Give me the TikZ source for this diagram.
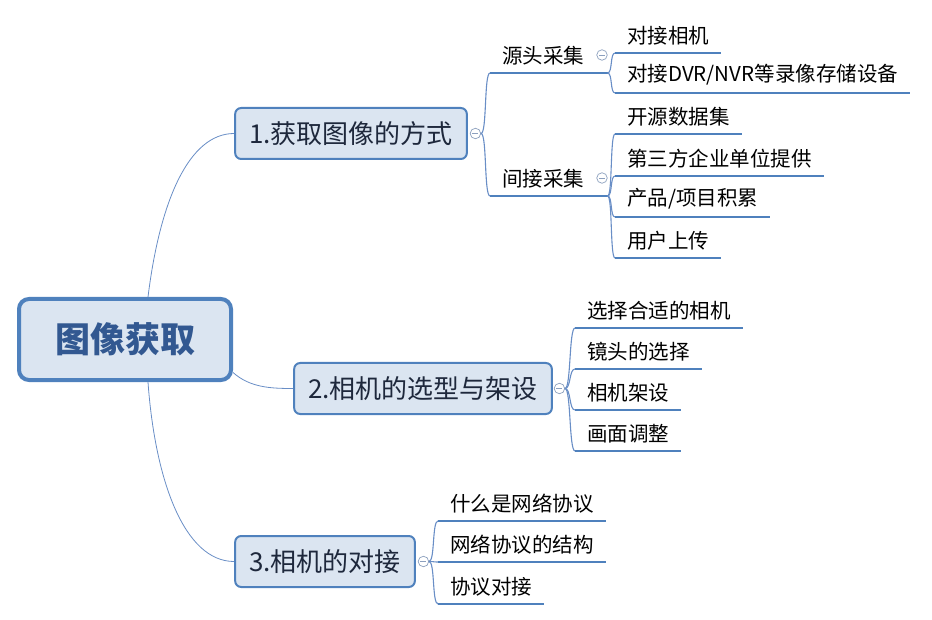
\documentclass[tikz,border=0pt]{standalone}
\usepackage{fontspec}
\setmainfont{Noto Sans CJK SC}
\usetikzlibrary{positioning}

\definecolor{xmblue}{RGB}{79,129,189}
\definecolor{boxfill}{RGB}{219,229,241}
\definecolor{roottext}{RGB}{50,88,145}
\definecolor{maintext}{RGB}{30,40,60}
\definecolor{linkblue}{RGB}{105,142,198}
\definecolor{foldgray}{RGB}{140,160,190}

\tikzset{
  root/.style={draw=xmblue, line width=4pt, fill=boxfill, rounded corners=10pt, minimum width=212pt, minimum height=81pt, font=\fontsize{35}{40}\selectfont\bfseries, text=roottext},
  main/.style={draw=xmblue, line width=2pt, fill=boxfill, rounded corners=6pt, minimum height=51pt, inner xsep=14pt, font=\fontsize{26}{30}\selectfont, text=maintext},
  sub/.style={anchor=south west, inner xsep=12pt, inner ysep=8pt, font=\fontsize{20.5}{24}\selectfont},
  uline/.style={draw=xmblue, line width=2.5pt},
  link/.style={draw=linkblue, line width=0.8pt},
  branch/.style={draw=linkblue, line width=1.1pt},
  fold/.style={circle, draw=foldgray, fill=white, line width=0.7pt, minimum size=10.5pt, inner sep=0pt,
    path picture={\draw[foldgray, line width=0.7pt] ([xshift=-3pt]path picture bounding box.center) -- ([xshift=3pt]path picture bounding box.center);}}
}

\begin{document}
\begin{tikzpicture}[x=1pt, y=-1pt]
  \useasboundingbox (0,0) rectangle (932,620);

  % Central topic
  \node (root) [root] at (125,339.5) {图像获取};

  % Main topics
  \node (m1) [main] at (351,133.5) {1.获取图像的方式};
  \node (m2) [main] at (423,388.5) {2.相机的选型与架设};
  \node (m3) [main] at (325,561.5) {3.相机的对接};

  \draw[link] ([xshift=23pt]root.north) .. controls +(12,-97) and +(-45,0) .. (m1.west);
  \draw[link] ([yshift=-33pt]root.east) .. controls +(17,15) and +(-23,0) .. (m2.west);
  \draw[link] ([xshift=23pt]root.south) .. controls +(7,98) and +(-50,0) .. (m3.west);

  \node (c1) [fold, right=2pt of m1] {};
  \node (c2) [fold, right=1pt of m2] {};
  \node (c3) [fold, right=2pt of m3] {};

  % Subtopics of 1
  \node (s1) [sub] at (490,73) {源头采集};
  \node (s2) [sub] at (490,196) {间接采集};
  \node (c11) [fold] at (602,55) {};
  \node (c12) [fold] at (602,178) {};
  \coordinate (s1e) at (c11.east |- s1.south);
  \coordinate (s2e) at (c12.east |- s2.south);
  \draw[uline] (s1.south west) -- (s1e);
  \draw[uline] (s2.south west) -- (s2e);
  \draw[branch] (c1.east) .. controls +(6,0) and +(-6,0) .. (s1.south west);
  \draw[branch] (c1.east) .. controls +(6,0) and +(-6,0) .. (s2.south west);

  \node (a1) [sub] at (615,53) {对接相机};
  \node (a2) [sub] at (615,93) {对接DVR/NVR等录像存储设备};
  \node (b1) [sub] at (615,134) {开源数据集};
  \node (b2) [sub] at (615,176) {第三方企业单位提供};
  \node (b3) [sub] at (615,217) {产品/项目积累};
  \node (b4) [sub] at (615,258) {用户上传};
  \foreach \n in {a1,a2}
    \draw[branch] (s1e) .. controls +(5,0) and +(-5,0) .. (\n.south west);
  \foreach \n in {b1,b2,b3,b4}
    \draw[branch] (s2e) .. controls +(5,0) and +(-5,0) .. (\n.south west);

  % Subtopics of 2
  \node (d1) [sub] at (575,328) {选择合适的相机};
  \node (d2) [sub] at (575,369) {镜头的选择};
  \node (d3) [sub] at (575,410) {相机架设};
  \node (d4) [sub] at (575,451) {画面调整};
  \foreach \n in {d1,d2,d3,d4}
    \draw[branch] (c2.east) .. controls +(6,0) and +(-6,0) .. (\n.south west);

  % Subtopics of 3
  \node (e1) [sub] at (438,521) {什么是网络协议};
  \node (e2) [sub] at (438,562) {网络协议的结构};
  \node (e3) [sub] at (438,604) {协议对接};
  \foreach \n in {e1,e2,e3}
    \draw[branch] (c3.east) .. controls +(6,0) and +(-6,0) .. (\n.south west);

  % Underlines
  \foreach \n in {a1,a2,b1,b2,b3,b4,d1,d2,d3,d4,e1,e2,e3}
    \draw[uline] (\n.south west) -- (\n.south east);

\end{tikzpicture}
\end{document}
